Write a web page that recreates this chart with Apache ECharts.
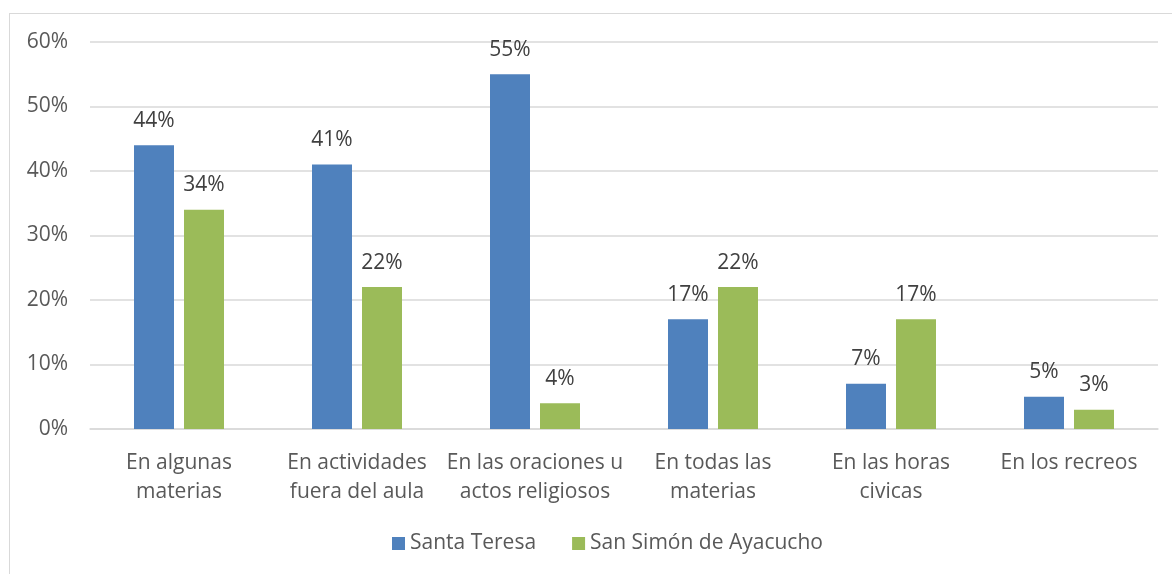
<!DOCTYPE html>
<html><head><meta charset="utf-8">
<script src="https://cdn.jsdelivr.net/npm/echarts@6/dist/echarts.min.js"></script>
<style>html,body{margin:0;padding:0;background:#fff}#c{width:1172px;height:574px}
#frame{position:absolute;left:9px;top:13px;width:1170px;height:570px;border:1.5px solid #d9d9d9;box-sizing:border-box;pointer-events:none}</style>
</head><body><div id="c"></div><div id="frame"></div>
<script>
const categories = ["En algunas\nmaterias", "En actividades\nfuera del aula", "En las oraciones u\nactos religiosos", "En todas las\nmaterias", "En las horas\ncivicas", "En los recreos"];
const santaTeresa = [44, 41, 55, 17, 7, 5];
const sanSimon = [34, 22, 4, 22, 17, 3];
const seriesNames = ["Santa Teresa", "San Simón de Ayacucho"];
const yTicks = [0, 10, 20, 30, 40, 50, 60];

const font = "'Open Sans', 'Liberation Sans', sans-serif";
const chart = echarts.init(document.getElementById('c'));
const lbl = {show: true, position: 'top', distance: 14, formatter: p => p.value + '%', color: '#404040', fontSize: 21, fontFamily: font};
chart.setOption({
  animation: false,
  textStyle: {fontFamily: font},
  grid: {left: 90, right: 14, top: 42, bottom: 145},
  legend: {
    data: seriesNames, bottom: 15, left: 387, itemWidth: 13, itemHeight: 13, itemGap: 36,
    icon: 'rect', textStyle: {color: '#595959', fontSize: 21, fontFamily: font}
  },
  xAxis: {
    type: 'category', data: categories,
    axisLine: {lineStyle: {color: '#d9d9d9', width: 1.5}},
    axisTick: {show: false},
    axisLabel: {color: '#595959', fontSize: 21, lineHeight: 29, margin: 20, interval: 0, fontFamily: font}
  },
  yAxis: {
    type: 'value', min: yTicks[0], max: yTicks[yTicks.length - 1], interval: 10,
    axisLine: {show: false}, axisTick: {show: false},
    axisLabel: {color: '#595959', fontSize: 21, margin: 22, formatter: v => v + '%', fontFamily: font},
    splitLine: {lineStyle: {color: '#d9d9d9', width: 1.5}}
  },
  series: [
    {name: seriesNames[0], type: 'bar', data: santaTeresa, barWidth: 40, barGap: '25%', itemStyle: {color: '#4f81bd'}, label: lbl},
    {name: seriesNames[1], type: 'bar', data: sanSimon, barWidth: 40, itemStyle: {color: '#9bbb59'}, label: lbl}
  ]
});
</script></body></html>
